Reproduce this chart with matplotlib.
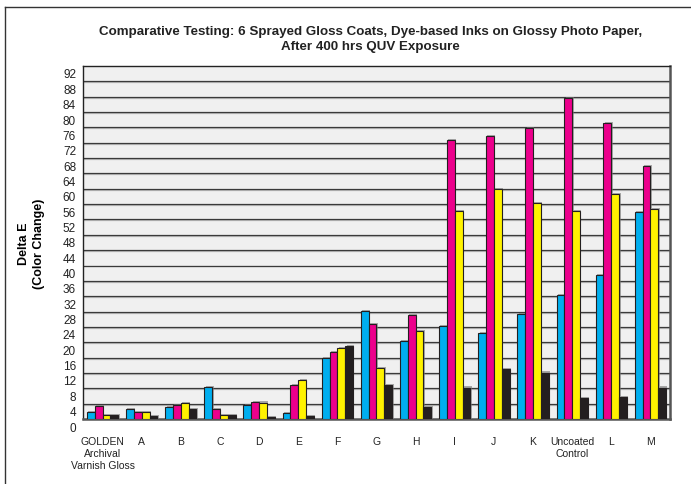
import matplotlib
matplotlib.use("Agg")
import matplotlib.pyplot as plt
import matplotlib.transforms as mtransforms
import matplotlib.patheffects as pe
from matplotlib.lines import Line2D
import numpy as np

plt.rcParams['font.family'] = ['Liberation Sans', 'DejaVu Sans']

categories = ['GOLDEN\nArchival\nVarnish Gloss', 'A', 'B', 'C', 'D', 'E', 'F', 'G',
              'H', 'I', 'J', 'K', 'Uncoated\nControl', 'L', 'M']
cyan = [1.7, 2.5, 3.1, 8.3, 3.6, 1.5, 15.8, 28.2, 20.3, 24.2, 22.4, 27.4, 32.2, 37.6, 54.0]
magenta = [3.4, 1.8, 3.6, 2.5, 4.4, 8.8, 17.4, 24.8, 27.1, 72.6, 73.7, 75.8, 83.7, 77.1, 66.0]
yellow = [1.0, 1.7, 4.2, 1.0, 4.3, 10.2, 18.4, 13.2, 23.0, 54.3, 59.9, 56.2, 54.3, 58.6, 54.7]
black = [1.1, 0.8, 2.7, 1.0, 0.5, 0.8, 19.1, 8.9, 3.2, 8.2, 13.0, 12.1, 5.5, 5.7, 8.2]

series = [cyan, magenta, yellow, black]
colors = ['#00aeef', '#ec008c', '#fff200', '#231f20']
yticks = list(range(0, 93, 4))

fig = plt.figure(figsize=(6.91, 4.85), dpi=100)
ax = fig.add_axes([0.1201, 0.134, 0.8495, 0.7279])
ax.set_facecolor('#f0f0f0')

x = np.arange(len(categories))
width = 0.2
shadow = [pe.SimplePatchShadow(offset=(1.0, 0.8), shadow_rgbFace='#777777', alpha=0.6), pe.Normal()]
for i, (vals, col) in enumerate(zip(series, colors)):
    ax.bar(x + (i - 1.5) * width, vals, width, color=col, edgecolor='#231f20',
           linewidth=0.8, zorder=3, path_effects=shadow)

ax.set_xlim(-0.5, len(categories) - 0.5)
ax.set_ylim(0, 92)
ax.set_yticks(yticks)
ax.set_yticklabels([str(t) for t in yticks], fontsize=8.5, color='#222222')
ax.set_xticks(x)
ax.set_xticklabels(categories, fontsize=7.5, color='#222222', linespacing=1.25, va='top')
ax.tick_params(axis='both', length=0)
ax.tick_params(axis='x', pad=12)
ax.tick_params(axis='y', pad=5)

# labels sit a little below their gridlines in the original
off = mtransforms.ScaledTranslation(0, -7 / 100, fig.dpi_scale_trans)
for lab in ax.get_yticklabels():
    lab.set_transform(lab.get_transform() + off)

for t in yticks[1:-1]:
    ax.axhline(t, color='#3a3a3a', lw=0.9, zorder=1,
               path_effects=[pe.SimpleLineShadow(offset=(0, -0.7), shadow_color='#999999', alpha=0.6), pe.Normal()])

for side in ['left', 'top']:
    ax.spines[side].set_color('#222222')
    ax.spines[side].set_linewidth(1.0)
for side in ['right', 'bottom']:
    ax.spines[side].set_color('#555555')
    ax.spines[side].set_linewidth(1.8)

ax.set_ylabel('Delta E\n(Color Change)', fontsize=9, fontweight='bold', labelpad=13,
              linespacing=1.3)

fig.suptitle('Comparative Testing: 6 Sprayed Gloss Coats, Dye-based Inks on Glossy Photo Paper,\n'
             'After 400 hrs QUV Exposure', x=0.536, y=0.946, fontsize=9.6, fontweight='bold',
             linespacing=1.35, color='#222222')

# outer frame lines
fig.add_artist(Line2D([5 / 691, 5 / 691], [0, 1 - 8 / 485], transform=fig.transFigure,
                      color='#333333', lw=1.0))
fig.add_artist(Line2D([5 / 691, 1], [1 - 8 / 485, 1 - 8 / 485], transform=fig.transFigure,
                      color='#333333', lw=1.0))

fig.savefig('out.png', dpi=100)
